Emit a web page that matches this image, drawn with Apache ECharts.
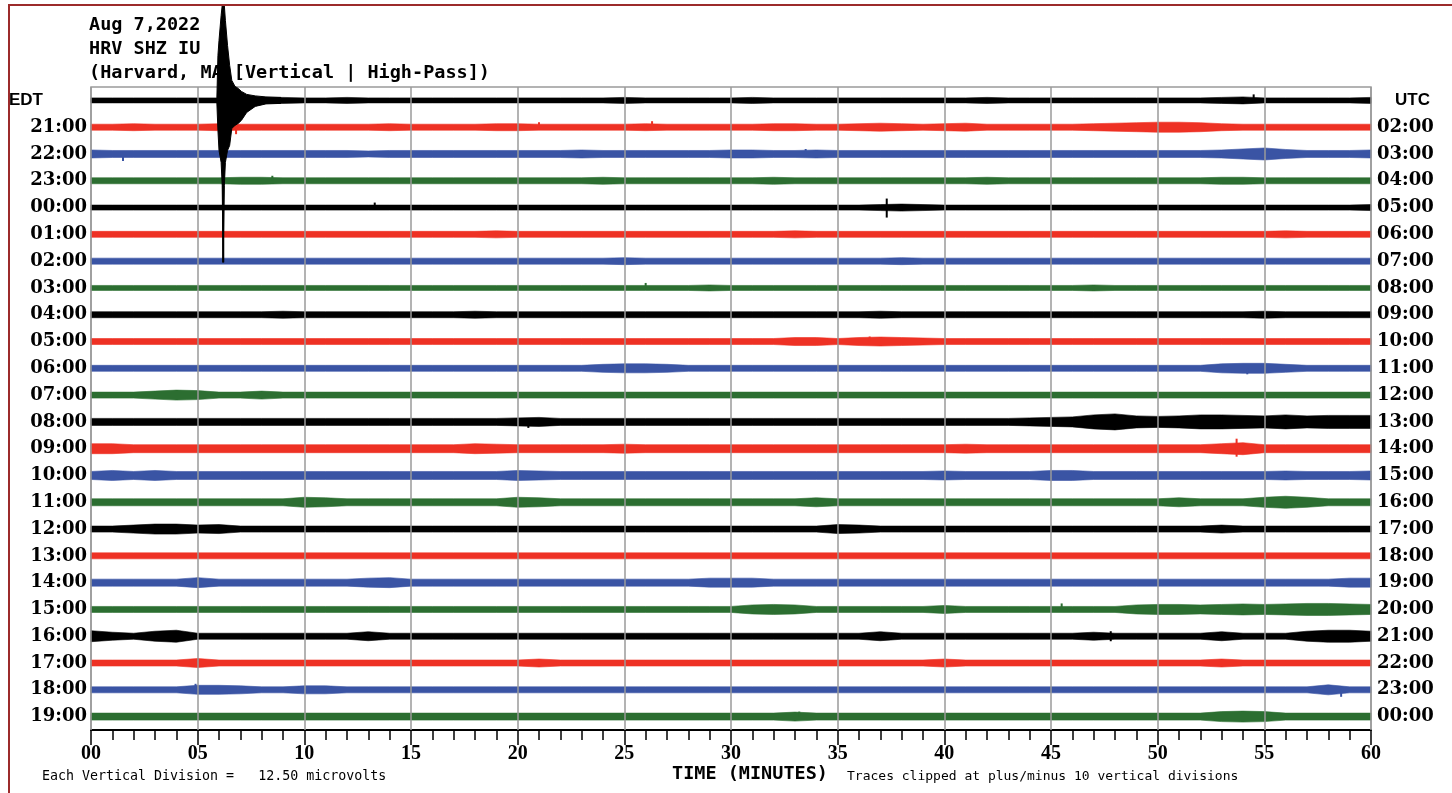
<!DOCTYPE html>
<html>
<head>
<meta charset="utf-8">
<script src="https://cdn.jsdelivr.net/npm/echarts@6/dist/echarts.min.js"></script>
<style>
  html, body { margin: 0; background: #fff; }
  #chart { width: 1452px; height: 793px; }
  #frame { position: absolute; left: 8px; top: 4px; right: 0; bottom: 0;
           border-left: 2px solid #9c2b2b; border-top: 2px solid #9c2b2b; pointer-events: none; }
</style>
</head>
<body>
<div id="chart"></div>
<div id="frame"></div>
<script>
const EDT_LABELS = ["EDT", "21:00", "22:00", "23:00", "00:00", "01:00", "02:00", "03:00", "04:00", "05:00",
  "06:00", "07:00", "08:00", "09:00", "10:00", "11:00", "12:00", "13:00", "14:00", "15:00",
  "16:00", "17:00", "18:00", "19:00"];
const UTC_LABELS = ["UTC", "02:00", "03:00", "04:00", "05:00", "06:00", "07:00", "08:00", "09:00", "10:00",
  "11:00", "12:00", "13:00", "14:00", "15:00", "16:00", "17:00", "18:00", "19:00", "20:00",
  "21:00", "22:00", "23:00", "00:00"];
const X_TICKS = [0, 5, 10, 15, 20, 25, 30, 35, 40, 45, 50, 55, 60];
const TRACE_COLORS = ["#000000", "#ee3124", "#3a54a4", "#2c6e31"];

// sample minutes of the trace envelopes (one per minute)
const SAMPLE_MIN = Array.from({ length: 61 }, (_, k) => k);

// half-height of each hourly trace at each minute, one row per hour (plot units)
const TRACE_AMP = [
  [2.5,2.5,2.5,2.5,2.5,2.5,2.5,2.5,2.5,3, 2.5,2.5,3,2.5,2.5,2.5,2.5,2.5,2.5,2.5, 2.5,2.5,2.5,2.5,2.5,3,2.5,2.5,2.5,2.5, 2.5,3,2.5,2.5,2.5,2.5,2.5,2.5,2.5,2.5, 2.5,2.5,3,2.5,2.5,2.5,2.5,2.5,2.5,2.5, 2.5,2.5,2.5,3,3.5,2.5,2.5,2.5,2.5,2.5, 3],
  [3,3,3.5,3,3,3,3.5,3,3,3, 3,3,3,3,3.5,3,3,3,3,3.5, 3.5,3,3,3,3,3,3.5,3,3,3, 3,3,3.5,3.5,3,3,3.5,4,3.5,3, 3.5,4,3,3,3,3,3,3.5,4,4.5, 5,5,4.5,3.5,3,3,3,3,3,3, 3],
  [4,3.5,3.5,3.5,3.5,3.5,3.5,3.5,3.5,3.5, 3.5,3.5,3.5,3,3.5,3.5,3.5,3.5,3.5,3.5, 3.5,3.5,3.5,4,3.5,3.5,3.5,3.5,3.5,3.5, 4,4,3.5,3.5,4,3.5,3.5,3.5,3.5,3.5, 3.5,3.5,3.5,3.5,3.5,3.5,3.5,3.5,3.5,3.5, 3.5,3.5,3.5,4,5,6,4.5,3.5,3.5,3.5, 4],
  [3,3,3,3,3,3,3,3.5,3.5,3, 3,3,3,3,3,3,3,3,3,3, 3,3,3,3,3.5,3,3,3,3,3, 3,3,3.5,3,3,3,3,3,3,3, 3,3,3.5,3,3,3,3,3,3,3, 3,3,3,3.5,3.5,3,3,3,3,3, 3],
  [2.5,2.5,2.5,2.5,2.5,2.5,2.5,2.5,2.5,2.5, 2.5,2.5,2.5,2.5,2.5,2.5,2.5,2.5,2.5,2.5, 2.5,2.5,2.5,2.5,2.5,2.5,2.5,2.5,2.5,2.5, 2.5,2.5,2.5,2.5,2.5,2.5,2.5,3,3.5,3, 2.5,2.5,2.5,2.5,2.5,2.5,2.5,2.5,2.5,2.5, 2.5,2.5,2.5,2.5,2.5,2.5,2.5,2.5,2.5,2.5, 3],
  [3,3,3,3,3,3,3,3,3,3, 3,3,3,3,3,3,3,3,3,3.5, 3,3,3,3,3,3,3,3,3,3, 3,3,3,3.5,3,3,3,3,3,3, 3,3,3,3,3,3,3,3,3,3, 3,3,3,3,3,3,3.5,3,3,3, 3],
  [3,3,3,3,3,3,3,3,3,3, 3,3,3,3,3,3,3,3,3,3, 3,3,3,3,3,3.5,3,3,3,3, 3,3,3,3,3,3,3,3,3.5,3, 3,3,3,3,3,3,3,3,3,3, 3,3,3,3,3,3,3,3,3,3, 3],
  [2.5,2.5,2.5,2.5,2.5,2.5,2.5,2.5,2.5,2.5, 2.5,2.5,2.5,2.5,2.5,2.5,2.5,2.5,2.5,2.5, 2.5,2.5,2.5,2.5,2.5,2.5,2.5,2.5,2.5,3, 2.5,2.5,2.5,2.5,2.5,2.5,2.5,2.5,2.5,2.5, 2.5,2.5,2.5,2.5,2.5,2.5,2.5,3,2.5,2.5, 2.5,2.5,2.5,2.5,2.5,2.5,2.5,2.5,2.5,2.5, 2.5],
  [3,3,3,3,3,3,3,3,3,3.5, 3,3,3,3,3,3,3,3,3.5,3, 3,3,3,3,3,3,3,3,3,3, 3,3,3,3,3,3,3,3.5,3,3, 3,3,3,3,3,3,3,3,3,3, 3,3,3,3,3,3.5,3,3,3,3, 3],
  [3,3,3,3,3,3,3,3,3,3, 3,3,3,3,3,3,3,3,3,3, 3,3,3,3,3,3,3,3,3,3, 3,3,3,4,4,3,4,4.5,4,3.5, 3,3,3,3,3,3,3,3,3,3, 3,3,3,3,3,3,3,3,3,3, 3],
  [3,3,3,3,3,3,3,3,3,3, 3,3,3,3,3,3,3,3,3,3, 3,3,3,3,4,4.5,4.5,4,3,3, 3,3,3,3,3,3,3,3,3,3, 3,3,3,3,3,3,3,3,3,3, 3,3,3,4.5,5,5,4,3,3,3, 3],
  [3,3,3,4,5,4.5,3,3,4,3, 3,3,3,3,3,3,3,3,3,3, 3,3,3,3,3,3,3,3,3,3, 3,3,3,3,3,3,3,3,3,3, 3,3,3,3,3,3,3,3,3,3, 3,3,3,3,3,3,3,3,3,3, 3],
  [3.5,3.5,3.5,3.5,3.5,3.5,3.5,3.5,3.5,3.5, 3.5,3.5,3.5,3.5,3.5,3.5,3.5,3.5,3.5,3.5, 4,4.5,3.5,3.5,3.5,3.5,3.5,3.5,3.5,3.5, 3.5,3.5,3.5,3.5,3.5,3.5,3.5,3.5,3.5,3.5, 3.5,3.5,3.5,3.5,4,4.5,5,7,8,6, 5.5,6,7,7,6.5,6,7,6,6.5,6.5, 6.5],
  [5,5,4,4,4,4,4,4,4,4, 4,4,4,4,4,4,4,4,5,4.5, 4,4,4,4,4,4.5,4,4,4,4, 4,4,4,4,4,4,4,4,4,4, 4,4.5,4,4,4,4,4,4,4,4, 4,4,4,5,6,4,4,4,4,4, 4],
  [4,5,4,5,4,4,4,4,4,4, 4,4,4,4,4,4,4,4,4,4, 5,4.5,4,4,4,4,4,4,4,4, 4,4,4,4,4,4,4,4,4,4, 4.5,4,4,4,4,5,5,4,4,4, 4,4,4,4,4,4,4.5,4,4,4, 4.5],
  [3.5,3.5,3.5,3.5,3.5,3.5,3.5,3.5,3.5,3.5, 5,4.5,3.5,3.5,3.5,3.5,3.5,3.5,3.5,3.5, 5,4.5,3.5,3.5,3.5,3.5,3.5,3.5,3.5,3.5, 3.5,3.5,3.5,3.5,4.5,3.5,3.5,3.5,3.5,3.5, 3.5,3.5,3.5,3.5,3.5,3.5,3.5,3.5,3.5,3.5, 3.5,4.5,3.5,3.5,3.5,5,6,5,3.5,3.5, 3.5],
  [3,3,4,5,5,4,4.5,3,3,3, 3,3,3,3,3,3,3,3,3,3, 3,3,3,3,3,3,3,3,3,3, 3,3,3,3,3,4.5,4,3,3,3, 3,3,3,3,3,3,3,3,3,3, 3,3,3,4,3,3,3,3,3,3, 3],
  [3,3,3,3,3,3,3,3,3,3, 3,3,3,3,3,3,3,3,3,3, 3,3,3,3,3,3,3,3,3,3, 3,3,3,3,3,3,3,3,3,3, 3,3,3,3,3,3,3,3,3,3, 3,3,3,3,3,3,3,3,3,3, 3],
  [3.5,3.5,3.5,3.5,3.5,5,3.5,3.5,3.5,3.5, 3.5,3.5,3.5,4.5,5,3.5,3.5,3.5,3.5,3.5, 3.5,3.5,3.5,3.5,3.5,3.5,3.5,3.5,3.5,4.5, 4.5,4.5,3.5,3.5,3.5,3.5,3.5,3.5,3.5,3.5, 3.5,3.5,3.5,3.5,3.5,3.5,3.5,3.5,3.5,3.5, 3.5,3.5,3.5,3.5,3.5,3.5,3.5,3.5,3.5,4.5, 4.5],
  [3,3,3,3,3,3,3,3,3,3, 3,3,3,3,3,3,3,3,3,3, 3,3,3,3,3,3,3,3,3,3, 3,4.5,5,4.5,3,3,3,3,3,3, 4,3,3,3,3,3,3,3,3,4.5, 5,5,4.5,5,5.5,5,5.5,6,6,5.5, 5],
  [5.5,4,3,5,6,3,3,3,3,3, 3,3,3,4.5,3,3,3,3,3,3, 3,3,3,3,3,3,3,3,3,3, 3,3,3,3,3,3,3,4.5,3,3, 3,3,3,3,3,3,3,4,3,3, 3,3,3,4.5,3,3,3,5,6,6, 5],
  [3,3,3,3,3,4.5,3,3,3,3, 3,3,3,3,3,3,3,3,3,3, 3,4,3,3,3,3,3,3,3,3, 3,3,3,3,3,3,3,3,3,3, 4,3,3,3,3,3,3,3,3,3, 3,3,3,4,3,3,3,3,3,3, 3],
  [3,3,3,3,3,4.5,4.5,4,3,3, 4,4,3,3,3,3,3,3,3,3, 3,3,3,3,3,3,3,3,3,3, 3,3,3,3,3,3,3,3,3,3, 3,3,3,3,3,3,3,3,3,3, 3,3,3,3,3,3,3,3,5,3, 3],
  [3.5,3.5,3.5,3.5,3.5,3.5,3.5,3.5,3.5,3.5, 3.5,3.5,3.5,3.5,3.5,3.5,3.5,3.5,3.5,3.5, 3.5,3.5,3.5,3.5,3.5,3.5,3.5,3.5,3.5,3.5, 3.5,3.5,3.5,4.5,3.5,3.5,3.5,3.5,3.5,3.5, 3.5,3.5,3.5,3.5,3.5,3.5,3.5,3.5,3.5,3.5, 3.5,3.5,3.5,5,5.5,5,3.5,3.5,3.5,3.5, 3.5],
];

// the earthquake in the first hour: extent above / below the trace line
const QUAKE_MIN  = [5.9, 5.95, 6.0, 6.1, 6.15, 6.19, 6.25, 6.3, 6.4, 6.5, 6.6, 6.75, 6.9, 7.05, 7.3, 7.7, 8.2, 8.9];
const QUAKE_UP   = [2.5, 45, 60, 85, 95, 95, 95, 80, 55, 35, 20, 14, 12, 9, 6, 4.5, 3.5, 3];
const QUAKE_DOWN = [2.5, 30, 50, 62, 85, 162, 85, 62, 50, 45, 28, 25, 23, 20, 12, 6, 3.5, 3];

// isolated spikes: [minute, row, up, down]
const SPIKES = [
  [6.2, 0, 0, 162], [54.5, 0, 6, 0], [6.8, 1, 0, 7], [21.0, 1, 5, 0], [26.3, 1, 6, 0], [1.5, 2, 0, 7],
  [33.5, 2, 5, 0], [8.5, 3, 5, 0], [13.3, 4, 5, 0], [37.3, 4, 9, 10], [26.0, 7, 5, 0], [36.5, 9, 5, 0],
  [54.2, 10, 0, 6], [20.5, 12, 0, 6], [53.7, 13, 10, 8], [5.0, 18, 5, 5], [45.5, 19, 6, 0],
  [47.8, 20, 5, 5], [4.9, 22, 6, 0], [58.6, 22, 0, 7], [33.2, 23, 5, 0],
];

const ROWS = EDT_LABELS.length;
const Y_MAX = 643;
const ROW_H = Y_MAX / ROWS;
const rowCenter = (i) => (ROWS - 0.5 - i) * ROW_H;
const rowColor = (i) => TRACE_COLORS[i % TRACE_COLORS.length];

const chart = echarts.init(document.getElementById("chart"));

const labelFont = { fontFamily: "DejaVu Serif", fontWeight: "bold", fontSize: 18, color: "#000" };
const zoneFont = { fontFamily: "Liberation Sans", fontWeight: "bold", fontSize: 17, color: "#000" };
const monoSmall = { fontFamily: "DejaVu Sans Mono", fontSize: 13.3, fontWeight: "normal", color: "#000" };

chart.setOption({
  animation: false,
  backgroundColor: "#fff",
  title: [
    {
      text: "Aug 7,2022\nHRV SHZ IU\n(Harvard, MA)[Vertical | High-Pass])",
      left: 89, top: 13, padding: 0, z: 1,
      textStyle: { fontFamily: "DejaVu Sans Mono", fontWeight: "bold", fontSize: 18.5, lineHeight: 24, color: "#000" },
    },
    { text: "Each Vertical Division =   12.50 microvolts", left: 42, top: 770, padding: 0, textStyle: monoSmall },
    {
      text: "TIME (MINUTES)", left: 672, top: 765, padding: 0,
      textStyle: { fontFamily: "DejaVu Sans Mono", fontWeight: "bold", fontSize: 18.5, color: "#000" },
    },
    { text: "Traces clipped at plus/minus 10 vertical divisions", left: 847, top: 770, padding: 0, textStyle: { ...monoSmall, fontSize: 13 } },
  ],
  grid: { left: 91, right: 81, top: 87, bottom: 63, show: true, borderColor: "#9a9a9a", borderWidth: 1.5 },
  xAxis: {
    type: "value", min: 0, max: 60, interval: 5,
    axisLine: { onZero: false, lineStyle: { color: "#000", width: 2 } },
    axisTick: { length: 15, lineStyle: { color: "#000", width: 1.5 } },
    minorTick: { show: true, splitNumber: 5, length: 10, lineStyle: { color: "#000", width: 1.5 } },
    splitLine: { show: false },
    axisLabel: {
      margin: 14,
      formatter: (v) => String(v).padStart(2, "0"),
      fontFamily: "Liberation Serif", fontWeight: "bold", fontSize: 20, color: "#000",
    },
  },
  yAxis: [
    { type: "value", min: 0, max: Y_MAX, show: false },
    {
      type: "category", position: "left", inverse: true, data: EDT_LABELS,
      axisLine: { show: false }, axisTick: { show: false }, splitLine: { show: false },
      axisLabel: {
        interval: 0, margin: 4, ...labelFont,
        formatter: (v) => (v === "EDT" ? "{z|EDT}" : v),
        rich: { z: { ...zoneFont, padding: [0, 44, 0, 0] } },
      },
    },
    {
      type: "category", position: "right", inverse: true, data: UTC_LABELS,
      axisLine: { show: false }, axisTick: { show: false }, splitLine: { show: false },
      axisLabel: {
        interval: 0, margin: 6, ...labelFont,
        formatter: (v) => (v === "UTC" ? "{z|UTC}" : v),
        rich: { z: { ...zoneFont, padding: [0, 0, 0, 18] } },
      },
    },
  ],
  series: [
    {
      name: "traces",
      type: "custom",
      z: 2,
      silent: true,
      data: TRACE_AMP.map((_, i) => [0, rowCenter(i), i]),
      encode: { x: 0, y: 1 },
      renderItem: (params, api) => {
        const i = api.value(2);
        const amp = TRACE_AMP[i];
        const c = rowCenter(i);
        const top = SAMPLE_MIN.map((m, k) => api.coord([m, c + amp[k]]));
        const bottom = SAMPLE_MIN.map((m, k) => api.coord([m, c - amp[k]])).reverse();
        return {
          type: "polygon",
          shape: { points: top.concat(bottom) },
          style: { fill: rowColor(i), stroke: rowColor(i), lineWidth: 0.6 },
        };
      },
    },
    {
      name: "quake",
      type: "custom",
      z: 4,
      silent: true,
      clip: false,
      data: [[QUAKE_MIN[0], rowCenter(0), 0]],
      encode: { x: 0, y: 1 },
      renderItem: (params, api) => {
        const c = rowCenter(0);
        const top = QUAKE_MIN.map((m, k) => api.coord([m, c + QUAKE_UP[k]]));
        const bottom = QUAKE_MIN.map((m, k) => api.coord([m, c - QUAKE_DOWN[k]])).reverse();
        return {
          type: "polygon",
          shape: { points: top.concat(bottom) },
          style: { fill: rowColor(0), stroke: rowColor(0), lineWidth: 1 },
        };
      },
    },
    {
      name: "spikes",
      type: "custom",
      z: 4,
      silent: true,
      data: SPIKES,
      encode: { x: 0, y: 1 },
      renderItem: (params, api) => {
        const m = api.value(0);
        const i = api.value(1);
        const c = rowCenter(i);
        const p1 = api.coord([m, c + api.value(2)]);
        const p2 = api.coord([m, c - api.value(3)]);
        return {
          type: "line",
          shape: { x1: p1[0], y1: p1[1], x2: p2[0], y2: p2[1] },
          style: { stroke: rowColor(i), lineWidth: 2 },
        };
      },
    },
    {
      name: "grid lines",
      type: "line",
      z: 3,
      silent: true,
      data: [],
      markLine: {
        silent: true,
        symbol: "none",
        label: { show: false },
        lineStyle: { color: "#9a9a9a", width: 1.5, type: "solid" },
        data: X_TICKS.map((v) => ({ xAxis: v })),
      },
    },
  ],
});
</script>
</body>
</html>
